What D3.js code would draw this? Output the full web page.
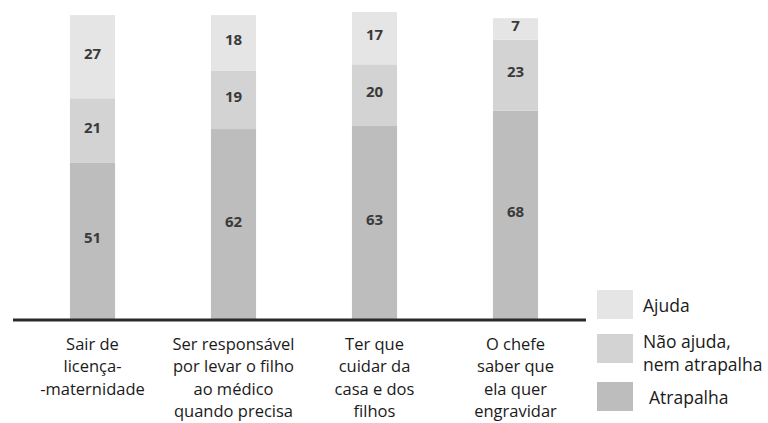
<!DOCTYPE html>
<html>
<head>
<meta charset="utf-8">
<script src="https://cdn.jsdelivr.net/npm/d3@7"></script>
<style>
  html, body { margin: 0; padding: 0; background: #fff; }
  svg { display: block; }
  text { font-family: "Open Sans", "Noto Sans", sans-serif; }
</style>
</head>
<body>
<svg id="chart" width="768" height="423"></svg>
<script>
// ---- data ----
const categories = [
  ["Sair de", "licença-", "-maternidade"],
  ["Ser responsável", "por levar o filho", "ao médico", "quando precisa"],
  ["Ter que", "cuidar da", "casa e dos", "filhos"],
  ["O chefe", "saber que", "ela quer", "engravidar"]
];
const categoryKeys = ["c1", "c2", "c3", "c4"];
const atrapalha = [51, 62, 63, 68];
const naoAjuda = [21, 19, 20, 23];
const ajuda = [27, 18, 17, 7];
const seriesNames = ["Atrapalha", "Não ajuda, nem atrapalha", "Ajuda"];
const legendLabels = [["Ajuda"], ["Não ajuda,", "nem atrapalha"], ["Atrapalha"]];

// ---- build table ----
const rows = categoryKeys.map((k, i) => ({
  key: k, atrapalha: atrapalha[i], naoAjuda: naoAjuda[i], ajuda: ajuda[i]
}));
const keys = ["atrapalha", "naoAjuda", "ajuda"];
const colors = { atrapalha: "#bdbdbd", naoAjuda: "#d3d3d3", ajuda: "#e5e5e5" };

const svg = d3.select("#chart");
const baseY = 320;

const x = d3.scaleBand().domain(categoryKeys).range([22, 586])
  .paddingInner(0.68).paddingOuter(0.34);
const y = d3.scaleLinear().domain([0, 100]).range([baseY, 12]);

const stack = d3.stack().keys(keys)(rows);

const layers = svg.append("g").selectAll("g").data(stack).join("g")
  .attr("fill", d => colors[d.key]);

layers.selectAll("rect").data(d => d).join("rect")
  .attr("x", d => x(d.data.key))
  .attr("width", x.bandwidth())
  .attr("y", d => y(d[1]))
  .attr("height", d => y(d[0]) - y(d[1]));

// value labels
const labelsG = svg.append("g");
stack.forEach(layer => {
  labelsG.selectAll(null).data(layer).join("text")
    .attr("x", d => x(d.data.key) + x.bandwidth() / 2)
    .attr("y", d => (y(d[0]) + y(d[1])) / 2 - 4)
    .attr("text-anchor", "middle")
    .attr("dominant-baseline", "central")
    .attr("font-size", 15)
    .attr("font-weight", 700)
    .attr("fill", "#3a3a3a")
    .text(d => d[1] - d[0]);
});

// baseline
svg.append("line")
  .attr("x1", 13).attr("x2", 586)
  .attr("y1", baseY).attr("y2", baseY)
  .attr("stroke", "#2a2a2a").attr("stroke-width", 3);

// category labels
const catG = svg.append("g");
categoryKeys.forEach((k, i) => {
  const t = catG.append("text")
    .attr("text-anchor", "middle")
    .attr("font-size", 16.5)
    .attr("fill", "#1a1a1a");
  categories[i].forEach((line, j) => {
    t.append("tspan")
      .attr("x", x(k) + x.bandwidth() / 2)
      .attr("y", 349.5 + j * 22.5)
      .text(line);
  });
});

// legend
const legendKeys = ["ajuda", "naoAjuda", "atrapalha"];
const swatchY = [290, 334, 382];
const legend = svg.append("g");
legendKeys.forEach((k, i) => {
  legend.append("rect")
    .attr("x", 597).attr("y", swatchY[i])
    .attr("width", 36).attr("height", 29)
    .attr("fill", colors[k]);
});
legend.append("text").attr("x", 643).attr("y", 305)
  .attr("dominant-baseline", "central").attr("font-size", 17.5).attr("fill", "#1a1a1a")
  .text(legendLabels[0][0]);
const t2 = legend.append("text").attr("font-size", 17.5).attr("fill", "#1a1a1a");
legendLabels[1].forEach((line, j) => {
  t2.append("tspan").attr("x", 643).attr("y", 341 + j * 23)
    .attr("dominant-baseline", "central").text(line);
});
legend.append("text").attr("x", 649).attr("y", 397)
  .attr("dominant-baseline", "central").attr("font-size", 17.5).attr("fill", "#1a1a1a")
  .text(legendLabels[2][0]);
</script>
</body>
</html>
